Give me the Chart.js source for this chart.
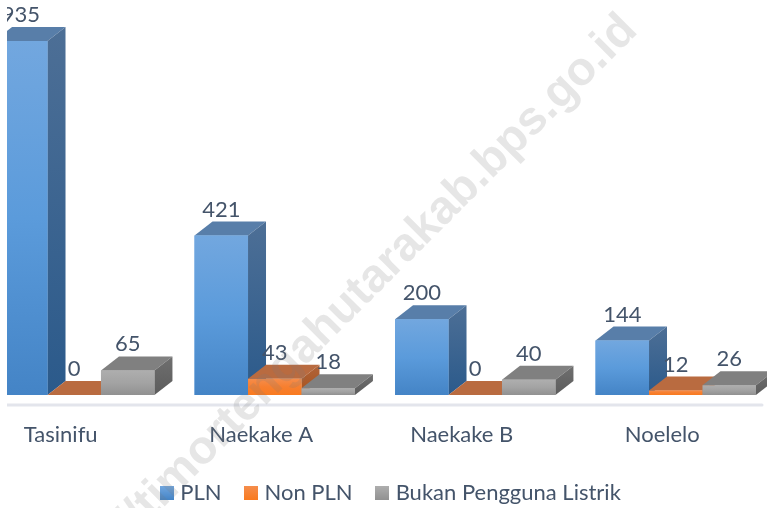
<!DOCTYPE html>
<html>
<head>
<meta charset="utf-8">
<script src="https://cdn.jsdelivr.net/npm/chart.js@4"></script>
<style>
  html, body { margin: 0; padding: 0; background: #fff; overflow: hidden; }
  /* the source picture is cropped on the left, so the canvas hangs out of this box */
  #crop { position: absolute; left: 7px; top: 0; width: 760px; height: 508px; overflow: hidden; }
  #chart { position: absolute; left: -33px; top: 0; }
</style>
</head>
<body>
<div id="crop"><canvas id="chart" width="837" height="514"></canvas></div>
<script>
const categories = ['Tasinifu', 'Naekake A', 'Naekake B', 'Noelelo'];
const plnValues = [935, 421, 200, 144];
const nonPlnValues = [0, 43, 0, 12];
const bukanValues = [65, 18, 40, 26];
const seriesNames = ['PLN', 'Non PLN', 'Bukan Pengguna Listrik'];
const watermark = 'https://timortengahutarakab.bps.go.id';

const textColor = '#44546a';
const depthX = 18, depthY = 14;

// colours for each face of the 3D boxes
const faces = [
  { front: ['#72a7df', '#5b9bdb', '#4484c6'], side: ['#4d6f96', '#2b5a8b'], top: '#587ea9' },
  { front: ['#f58d4c', '#f77f2f', '#f97a1f'], side: ['#b0643a', '#a8521c'], top: '#b96b40' },
  { front: ['#aeaeae', '#a3a3a3', '#919191'], side: ['#6f6f6f', '#5c5c5c'], top: '#808080' }
];

function swatch(colors) {
  const c = document.createElement('canvas');
  c.width = 14; c.height = 14;
  const g = c.getContext('2d');
  const grad = g.createLinearGradient(0, 0, 0, 14);
  grad.addColorStop(0, colors[0]);
  grad.addColorStop(1, colors[2]);
  g.fillStyle = grad;
  g.fillRect(0, 0, 14, 14);
  return c;
}

function poly(ctx, pts, fill) {
  ctx.beginPath();
  pts.forEach((p, i) => i ? ctx.lineTo(p[0], p[1]) : ctx.moveTo(p[0], p[1]));
  ctx.closePath();
  ctx.fillStyle = fill;
  ctx.fill();
}

const box3d = {
  id: 'box3d',
  afterDatasetsDraw(chart) {
    const ctx = chart.ctx;
    const area = chart.chartArea;
    ctx.save();

    // floor strip under the bars
    ctx.strokeStyle = '#e3e5ec';
    ctx.lineWidth = 3;
    ctx.lineCap = 'round';
    ctx.beginPath();
    ctx.moveTo(0, area.bottom + 10);
    ctx.lineTo(788, area.bottom + 10);
    ctx.stroke();

    // left to right inside each category so the next box covers the previous side
    categories.forEach((cat, i) => {
      chart.data.datasets.forEach((ds, d) => {
        const bar = chart.getDatasetMeta(d).data[i];
        const f = faces[d];
        const l = bar.x - bar.width / 2, r = bar.x + bar.width / 2;
        const t = bar.y, b = bar.base;

        poly(ctx, [[l, t], [r, t], [r + depthX, t - depthY], [l + depthX, t - depthY]], f.top);

        const sideGrad = ctx.createLinearGradient(0, t - depthY, 0, b);
        sideGrad.addColorStop(0, f.side[0]);
        sideGrad.addColorStop(1, f.side[1]);
        poly(ctx, [[r, t], [r + depthX, t - depthY], [r + depthX, b - depthY], [r, b]], sideGrad);

        if (b - t > 0) {
          const frontGrad = ctx.createLinearGradient(0, t, 0, b);
          frontGrad.addColorStop(0, f.front[0]);
          frontGrad.addColorStop(0.5, f.front[1]);
          frontGrad.addColorStop(1, f.front[2]);
          poly(ctx, [[l, t], [r, t], [r, b], [l, b]], frontGrad);
        }
      });
    });

    // value labels sit above the front edge of each box
    ctx.font = '22px Lato';
    ctx.fillStyle = textColor;
    ctx.textAlign = 'center';
    ctx.textBaseline = 'middle';
    chart.data.datasets.forEach((ds, d) => {
      chart.getDatasetMeta(d).data.forEach((bar, i) => {
        ctx.fillText(ds.data[i], bar.x, bar.y - 26);
      });
    });
    ctx.restore();
  },
  afterDraw(chart) {
    const ctx = chart.ctx;
    ctx.save();
    ctx.translate(665, 32);
    ctx.rotate(-45 * Math.PI / 180);
    ctx.font = 'bold 47px "Liberation Sans"';
    ctx.textAlign = 'right';
    ctx.textBaseline = 'alphabetic';
    ctx.fillStyle = 'rgba(120,120,120,0.19)';
    ctx.fillText(watermark, 0, 0);
    ctx.restore();
  }
};

new Chart(document.getElementById('chart'), {
  type: 'bar',
  data: {
    labels: categories,
    datasets: [
      { label: seriesNames[0], data: plnValues, backgroundColor: faces[0].front[1], borderWidth: 0 },
      { label: seriesNames[1], data: nonPlnValues, backgroundColor: faces[1].front[1], borderWidth: 0 },
      { label: seriesNames[2], data: bukanValues, backgroundColor: faces[2].front[1], borderWidth: 0 }
    ]
  },
  options: {
    responsive: false,
    animation: false,
    layout: { padding: 0 },
    datasets: { bar: { categoryPercentage: 0.8, barPercentage: 1 } },
    scales: {
      x: {
        grid: { display: false },
        border: { display: false },
        ticks: {
          color: textColor,
          font: { family: 'Lato', size: 22 },
          labelOffset: -13.5,
          maxRotation: 0,
          padding: 19
        },
        afterFit(scale) { scale.height = 60; }
      },
      y: {
        position: 'right',
        min: 0,
        max: 1043,
        grid: { display: false },
        border: { display: false },
        ticks: { display: false },
        // keeps the legend centred where the source has it
        afterFit(scale) { scale.width = 35; }
      }
    },
    plugins: {
      tooltip: { enabled: false },
      legend: {
        position: 'bottom',
        labels: {
          color: textColor,
          font: { family: 'Lato', size: 22 },
          usePointStyle: true,
          pointStyleWidth: 5,
          boxHeight: 14,
          padding: 27,
          generateLabels(chart) {
            const items = Chart.defaults.plugins.legend.labels.generateLabels(chart);
            items.forEach((it, i) => { it.pointStyle = swatch(faces[i].front); });
            return items;
          }
        }
      }
    }
  },
  plugins: [box3d]
});
</script>
</body>
</html>
